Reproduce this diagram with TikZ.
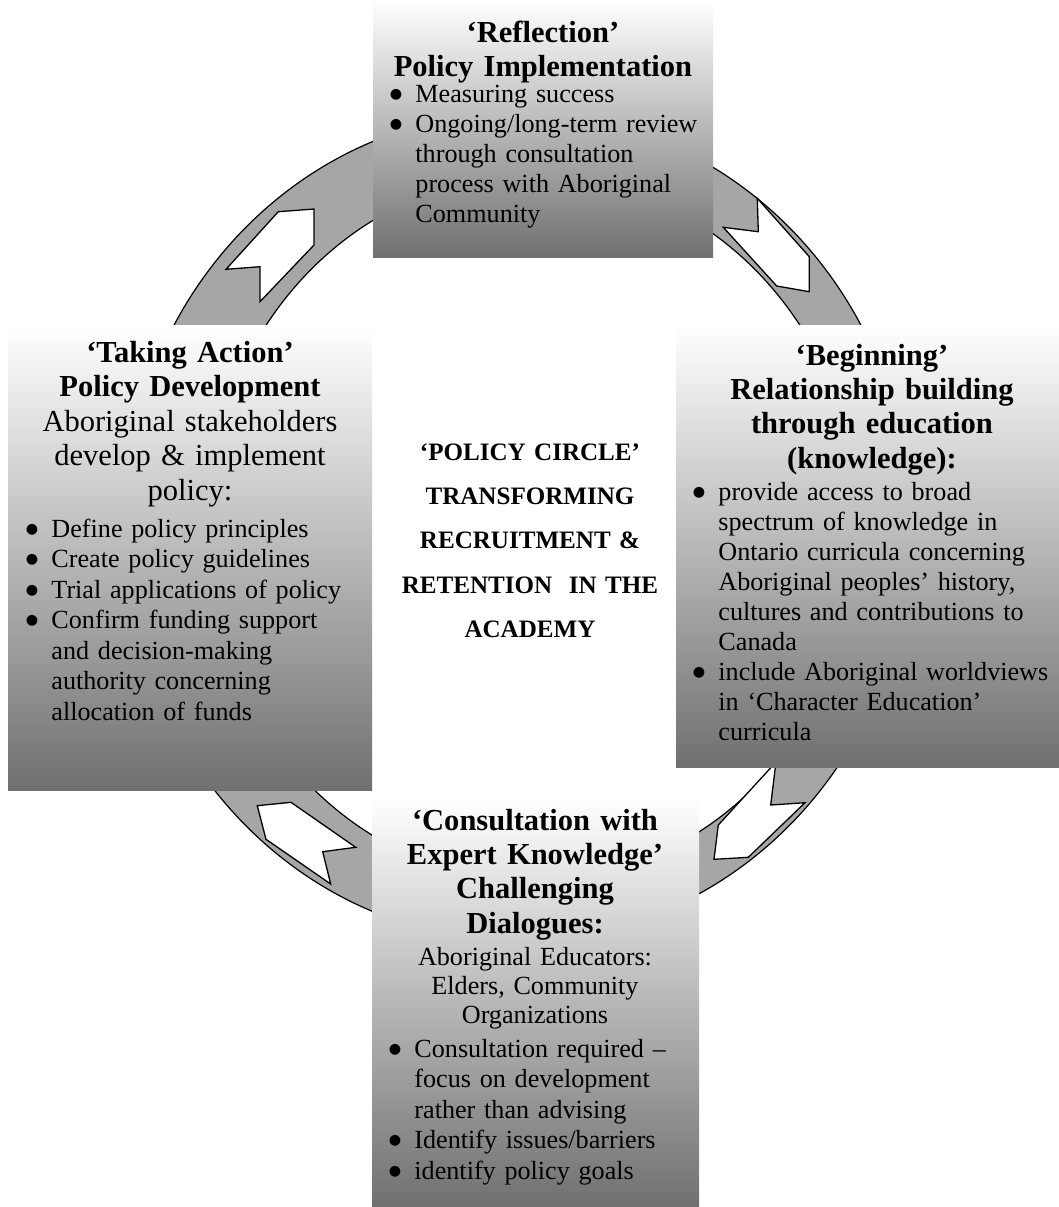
\documentclass[tikz,border=0pt]{standalone}
\usepackage{fontspec}
\setmainfont{Liberation Serif}
\newfontfamily\symfont{DejaVu Sans}
\definecolor{ringgray}{RGB}{166,166,166}
\definecolor{boxbot}{RGB}{112,112,112}
\newcommand\bul{\leavevmode\llap{\raisebox{1.7pt}{\symfont\fontsize{6.5}{6.5}\selectfont ●}\hspace{6pt}}}
\tikzset{
  ringshape/.style={fill=ringgray, draw=black, line width=0.55pt, even odd rule},
  chev/.style={fill=white, draw=black, line width=0.6pt, line join=miter},
  panel/.style={top color=white, bottom color=boxbot, draw=none},
  headtxt/.style={font=\bfseries\fontsize{14}{15.8}\selectfont, align=center, text width=220pt, inner sep=0pt, anchor=base},
  subtxt/.style={align=center, text width=220pt, inner sep=0pt, anchor=base},
  bodytxt/.style={font=\fontsize{12}{13.8}\selectfont, align=left, text width=200pt, inner sep=0pt, anchor=base west},
  centertxt/.style={font=\bfseries\fontsize{11.5}{20.4}\selectfont, align=center, text width=200pt, inner sep=0pt, anchor=base}
}
\begin{document}
\begin{tikzpicture}[x=0.4587pt, y=-0.4587pt]
\useasboundingbox (0,0) rectangle (1059,1207);
% ring
\draw[ringshape] (517.5,526.5) ellipse [x radius=393, y radius=414]
                 (533,528) ellipse [x radius=326, y radius=353];
% chevron arrows
\draw[chev] (278.3,211.7) -- (314,209) -- (314,245) -- (260,301.7) -- (260,266.7) -- (226,269.3) -- cycle;
\draw[chev] (757.3,198.3) -- (758.3,231.7) -- (723.3,227.3) -- (776.7,286) -- (809.3,291.7) -- (809.3,256.7) -- cycle;
\draw[chev] (257.3,805.7) -- (291,802.3) -- (355.7,847.3) -- (322.7,851.7) -- (330.7,884) -- (266,839.3) -- cycle;
\draw[chev] (776,762) -- (770.7,805) -- (805,802.7) -- (748.3,857.3) -- (714,859.3) -- (718.3,825) -- cycle;
% panels
\shade[panel] (373,0) rectangle (713,257);
\shade[panel] (8,325) rectangle (372,790);
\shade[panel] (676,325) rectangle (1059,767);
\shade[panel] (372,797) rectangle (699,1207);
% top panel text
\node[headtxt] (tophead) at (543,42) {‘Reflection’\\Policy Implementation};
\node[bodytxt] (topbody) at (415,102) {\bul Measuring success\\
\bul Ongoing/long-term review\\ through consultation\\ process with Aboriginal\\ Community};
% left panel text
\node[headtxt, font=\bfseries\fontsize{14}{16}\selectfont] (lefthead) at (190,362) {‘Taking Action’\\Policy Development};
\node[subtxt, font=\fontsize{14}{16}\selectfont] (leftsub) at (190,431) {Aboriginal stakeholders\\develop \& implement\\policy:};
\node[bodytxt, font=\fontsize{12}{14}\selectfont] (leftbody) at (51,537) {\bul Define policy principles\\
\bul Create policy guidelines\\
\bul Trial applications of policy\\
\bul Confirm funding support\\ and decision-making\\ authority concerning\\ allocation of funds};
% right panel text
\node[headtxt] (righthead) at (872,365) {‘Beginning’\\Relationship building\\through education\\(knowledge):};
\node[bodytxt] (rightbody) at (718,500) {\bul provide access to broad\\ spectrum of knowledge in\\ Ontario curricula concerning\\ Aboriginal peoples’ history,\\ cultures and contributions to\\ Canada\\
\bul include Aboriginal worldviews\\ in ‘Character Education’\\ curricula};
% bottom panel text
\node[headtxt] (bothead) at (535,830) {‘Consultation with\\Expert Knowledge’\\Challenging\\Dialogues:};
\node[subtxt, font=\fontsize{12}{13.5}\selectfont] (botsub) at (535,965) {Aboriginal Educators:\\Elders, Community\\Organizations};
\node[bodytxt, font=\fontsize{12}{14}\selectfont] (botbody) at (414,1057) {\bul Consultation required –\\ focus on development\\ rather than advising\\
\bul Identify issues/barriers\\
\bul identify policy goals};
% centre text
\node[centertxt] (centre) at (530,460) {‘POLICY CIRCLE’\\TRANSFORMING\\RECRUITMENT \&\\RETENTION\ \ IN THE\\ACADEMY};
\end{tikzpicture}
\end{document}
